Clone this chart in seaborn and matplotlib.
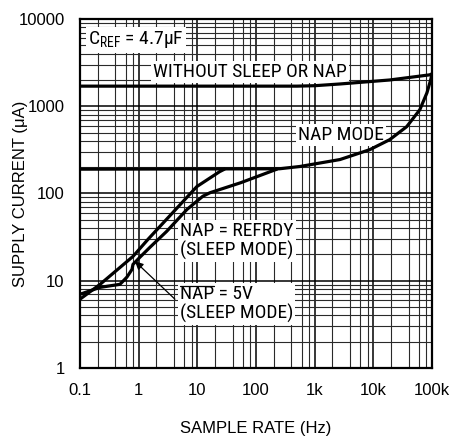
import matplotlib
matplotlib.use("Agg")
import matplotlib.pyplot as plt
import matplotlib.ticker as mticker
from matplotlib import font_manager
from matplotlib.lines import Line2D
from matplotlib.transforms import IdentityTransform
import numpy as np
import pandas as pd
import seaborn as sns

# ---- data ----
freq_without = [0.1, 500, 1000, 2700, 19000, 91000, 100000]
curr_without = [1700, 1700, 1720, 1800, 2000, 2290, 2350]

freq_nap = [0.1, 250, 560, 2700, 8700, 19000, 37000, 62000, 82000, 95000, 100000]
curr_nap = [190, 192, 204, 245, 318, 414, 583, 912, 1426, 2010, 2350]

freq_refrdy = [0.1, 0.22, 0.8, 1.44, 3.84, 9.8, 24, 29]
curr_refrdy = [6.15, 9.1, 19, 29.8, 60.7, 120, 178, 190]

freq_5v = [0.1, 0.22, 0.48, 0.63, 0.77, 0.80, 1.05, 1.56, 3.0, 6.65, 12.4, 16.4, 55, 227]
curr_5v = [7.0, 8.4, 9.1, 11.0, 13.5, 15.4, 18.6, 24.2, 36.8, 65.6, 93, 102, 133, 190]

x_ticks = [0.1, 1, 10, 100, 1000, 10000, 100000]
x_ticklabels = ["0.1", "1", "10", "100", "1k", "10k", "100k"]
y_ticks = [1, 10, 100, 1000, 10000]
y_ticklabels = ["1", "10", "100", "1000", "10000"]

series = {
    "WITHOUT SLEEP OR NAP": (freq_without, curr_without),
    "NAP MODE": (freq_nap, curr_nap),
    "NAP = REFRDY": (freq_refrdy, curr_refrdy),
    "NAP = 5V": (freq_5v, curr_5v),
}
rows = []
for name, (fx, cy) in series.items():
    for i, (a, b) in enumerate(zip(fx, cy)):
        rows.append({"series": name, "order": i, "freq": a, "current": b})
df = pd.DataFrame(rows)

sns.set_theme(style="white")
plt.rcParams["font.family"] = ["Liberation Sans", "DejaVu Sans"]
plt.rcParams["text.color"] = "black"

# look for a condensed face for the in-plot labels
avail = {f.name for f in font_manager.fontManager.ttflist}
cond_family = None
for cand in ["Roboto Condensed", "Liberation Sans Narrow", "Noto Sans Condensed",
             "Open Sans Condensed", "Arial Narrow"]:
    if cand in avail:
        cond_family = cand
        break
if cond_family is not None:
    LBL = dict(family=[cond_family, "DejaVu Sans"], fontsize=14, color="black")
else:
    LBL = dict(family=["Liberation Sans", "DejaVu Sans"], fontsize=12, color="black")

fig = plt.figure(figsize=(4.52, 4.40), dpi=100)
ax = fig.add_axes([80 / 452, 1 - 368 / 440, 352 / 452, 349 / 440])

sns.lineplot(data=df, x="freq", y="current", hue="series", units="series",
             estimator=None, sort=False, palette=["black"] * 4,
             linewidth=2.3, legend=False, ax=ax, zorder=3)

ax.set_xscale("log")
ax.set_yscale("log")
ax.set_xlim(0.1, 100000)
ax.set_ylim(1, 10000)

ax.xaxis.set_major_locator(mticker.FixedLocator(x_ticks))
ax.xaxis.set_major_formatter(mticker.FixedFormatter(x_ticklabels))
ax.yaxis.set_major_locator(mticker.FixedLocator(y_ticks))
ax.yaxis.set_major_formatter(mticker.FixedFormatter(y_ticklabels))
ax.xaxis.set_minor_locator(mticker.LogLocator(base=10, subs=[2, 4, 6, 8], numticks=20))
ax.yaxis.set_minor_locator(mticker.LogLocator(base=10, subs=np.arange(2, 10), numticks=20))
ax.xaxis.set_minor_formatter(mticker.NullFormatter())
ax.yaxis.set_minor_formatter(mticker.NullFormatter())

ax.grid(which="major", color="black", linewidth=1.1)
ax.grid(which="minor", color="#2a2a2a", linewidth=0.8)
ax.set_axisbelow(True)
for sp in ax.spines.values():
    sp.set_color("black")
    sp.set_linewidth(1.6)

ax.tick_params(which="both", length=0)
ax.tick_params(axis="x", pad=11, labelsize=12, colors="black")
ax.tick_params(axis="y", pad=11, labelsize=12, colors="black")

ax.set_xlabel("SAMPLE RATE (Hz)", fontsize=12, color="black")
ax.set_ylabel("SUPPLY CURRENT (μA)", fontsize=12, color="black")
ax.xaxis.label.set_va("center")
ax.yaxis.label.set_va("center")
ax.xaxis.set_label_coords(0.5, -0.172)
ax.yaxis.set_label_coords(-0.169, 0.5)

box = dict(facecolor="white", edgecolor="none", pad=1.5)
ax.text(0.137, 5750, "C$_{\\mathregular{REF}}$ = 4.7μF", ha="left", va="center",
        bbox=box, zorder=2.5, **LBL)
ax.text(1.75, 2480, "WITHOUT SLEEP OR NAP", ha="left", va="center",
        bbox=box, zorder=2.5, **LBL)
ax.text(518, 472, "NAP MODE", ha="left", va="center", bbox=box, zorder=2.5, **LBL)
ax.text(5.06, 28.3, "NAP = REFRDY\n(SLEEP MODE)", ha="left", va="center",
        linespacing=1.05, bbox=box, zorder=2.5, **LBL)
t5 = ax.text(5.06, 5.38, "NAP = 5V\n(SLEEP MODE)", ha="left", va="center",
             linespacing=1.05, bbox=box, zorder=2.5, **LBL)

ax.annotate("", xy=(0.865, 16.7), xytext=(4.15, 6.15),
            arrowprops=dict(arrowstyle="-|>", color="black", lw=0.9,
                            mutation_scale=12, shrinkA=0, shrinkB=0), zorder=5)

# overline on "NAP" (NAP-bar), measured from the rendered text
fig.canvas.draw()
renderer = fig.canvas.get_renderer()
ext = t5.get_window_extent(renderer)
tmp = ax.text(0, 0, "NAP", transform=IdentityTransform(), **LBL)
w_nap = tmp.get_window_extent(renderer).width
tmp.remove()
ytop = ext.y1 - 0.5
fig.add_artist(Line2D([ext.x0 + 0.5, ext.x0 + w_nap - 0.5], [ytop, ytop],
                      transform=IdentityTransform(), color="black", linewidth=0.9,
                      zorder=6))

fig.savefig("out.png", dpi=100, facecolor="white")
